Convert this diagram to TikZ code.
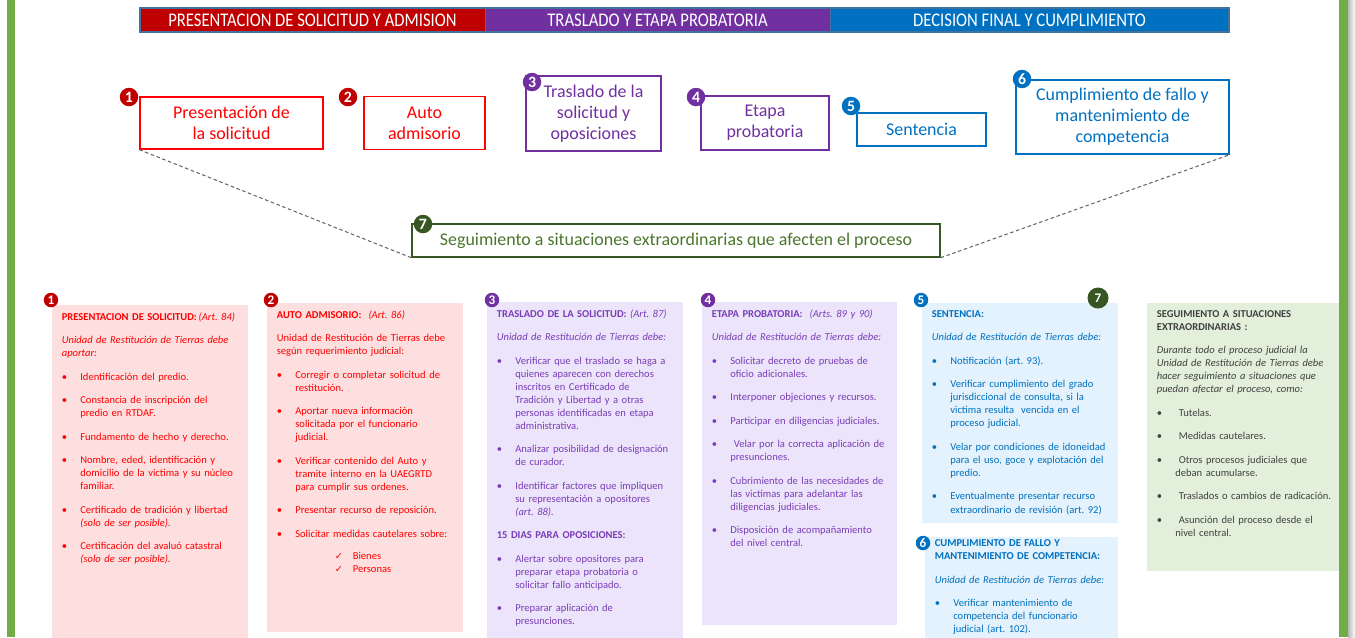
\documentclass[tikz,border=0pt]{standalone}
\usepackage{fontspec}
\setmainfont{Carlito}
\newfontfamily\symfont{DejaVu Sans}
\usepackage{graphicx}
\usetikzlibrary{positioning}

\definecolor{rojo}{HTML}{FF0000}
\definecolor{rojooscuro}{HTML}{C00000}
\definecolor{morado}{HTML}{7030A0}
\definecolor{moradotxt}{HTML}{7A3DB8}
\definecolor{azul}{HTML}{0070C0}
\definecolor{verde}{HTML}{375623}
\definecolor{verdetxt}{HTML}{4A752C}
\definecolor{marco}{HTML}{41719C}
\definecolor{barra}{HTML}{70AD47}
\definecolor{fondorojo}{HTML}{FDDFDF}
\definecolor{fondomorado}{HTML}{ECE4FA}
\definecolor{fondoazul}{HTML}{E3F2FC}
\definecolor{fondoverde}{HTML}{E2EFDA}
\definecolor{gris}{HTML}{404040}

\newlength\bhang
\setlength\bhang{0.37cm}
\newcommand{\salto}{\hfil\break}
\newcommand{\bloque}{\par\vspace{6pt}\noindent}
\newcommand{\vineta}[1]{\par\vspace{6pt}\hangindent=\bhang\hangafter=1\noindent\makebox[\bhang][l]{\textbullet}#1}
\newcommand{\visto}[1]{\par\noindent\hspace*{1.16cm}\makebox[0.36cm][l]{\symfont\fontsize{5.5}{6}\selectfont ✓}#1}
\newcommand{\angosto}[1]{\scalebox{0.86}[1]{#1}}

\tikzset{
    head/.style = {draw=marco, thin, text=white, minimum height=0.48cm, inner sep=0pt, font=\fontsize{11}{12}\selectfont},
    stagebox/.style = {draw, line width=0.8pt, align=center, inner sep=0pt, font=\fontsize{10.2}{12}\selectfont},
    badge/.style = {circle, inner sep=0pt, minimum size=0.37cm, text=white, font=\bfseries\fontsize{9}{9}\selectfont},
    small_badge/.style = {badge, minimum size=0.29cm, font=\bfseries\fontsize{7.5}{7.5}\selectfont},
    link/.style = {draw=gray!80!black, dash pattern=on 2pt off 1.5pt, line width=0.6pt}
}
\tikzset{
    panel/.style = {anchor=north west, inner sep=0pt, minimum width=3.92cm},
    panel_text/.style = {anchor=north west, align=left, text width=3.62cm, inner xsep=0.19cm, inner ysep=0.14cm, font=\fontsize{6}{7.4}\selectfont}
}

\begin{document}
\frenchspacing
\begin{tikzpicture}
    [x=0.02cm, y=-0.02cm]

    \path [use as bounding box] (0,0) rectangle (1355,637);
    \clip (0,0) rectangle (1355,637);

    % side bars
    \fill [barra] (7,0) rectangle (15,637);
    \fill [barra] (1339,0) rectangle (1348,637);
    \shade [left color=gray!55, right color=white] (1348,0) rectangle (1355,637);

    % header
    \node [head, fill=rojooscuro, minimum width=6.9cm] (h1) at (312.5,20) {\angosto{PRESENTACION DE SOLICITUD Y ADMISION}};
    \node [head, fill=morado, minimum width=6.9cm] (h2) at (657.5,20) {\angosto{TRASLADO Y ETAPA PROBATORIA}};
    \node [head, fill=azul, minimum width=7.98cm] (h3) at (1029.5,20) {\angosto{DECISION FINAL Y CUMPLIMIENTO}};
    \draw [marco, line width=1pt] (h1.north west) rectangle (h3.south east);

    % stages
    \node [stagebox, draw=rojo, text=rojo, minimum width=3.66cm, minimum height=1.04cm] (b1) at (231.5,123) {Presentación de\\la solicitud};
    \node [stagebox, draw=rojo, text=rojo, minimum width=2.42cm, minimum height=1.06cm] (b2) at (424.5,123) {Auto\\admisorio};
    \node [stagebox, draw=morado, text=morado, minimum width=2.7cm, minimum height=1.5cm] (b3) at (593.5,113.5) {Traslado de la\\solicitud y\\oposiciones};
    \node [stagebox, draw=morado, text=morado, minimum width=2.56cm, minimum height=1.08cm] (b4) at (765,123) {Etapa\\probatoria};
    \node [stagebox, draw=azul, text=azul, minimum width=2.58cm, minimum height=0.66cm] (b5) at (921.5,129.5) {Sentencia};
    \node [stagebox, draw=azul, text=azul, minimum width=4.26cm, minimum height=1.48cm] (b6) at (1122.5,117) {Cumplimiento de fallo y\\mantenimiento de\\competencia};
    \node [stagebox, draw=verde, text=verdetxt, minimum width=10.56cm, minimum height=0.66cm] (b7) at (676,240.5) {Seguimiento a situaciones extraordinarias que afecten el proceso};

    \node [badge, fill=rojooscuro] (k1) at (129,97) {1};
    \node [badge, fill=rojooscuro] (k2) at (348,97) {2};
    \node [badge, fill=morado] (k3) at (532,82) {3};
    \node [badge, fill=morado] (k4) at (696,97) {4};
    \node [badge, fill=azul] (k5) at (851,106) {5};
    \node [badge, fill=azul] (k6) at (1022,79) {6};
    \node [badge, fill=verde] (k7) at (423,224) {7};

    \draw [link] (b1.south west) -- (b7.south west);
    \draw [link] (b7.south east) -- (b6.south east);

    % panels
    \node [panel, fill=fondorojo, minimum height=7cm] (p1) at (52,305) {};
    \node [panel, fill=fondorojo, minimum height=6.58cm] (p2) at (267,303) {};
    \node [panel, fill=fondomorado, minimum height=7cm] (p3) at (487,302) {};
    \node [panel, fill=fondomorado, minimum height=6.46cm, minimum width=3.9cm] (p4) at (702,302) {};
    \node [panel, fill=fondoazul, minimum height=4.4cm] (p5) at (922,303) {};
    \node [panel, fill=fondoazul, minimum height=3cm, minimum width=3.86cm] (p6) at (925,537) {};
    \node [panel, fill=fondoverde, minimum height=5.36cm, minimum width=3.84cm] (p7) at (1147,303) {};

    \node [panel_text, text=rojo] (t1) at (p1.north west) {
        \textbf{PRESENTACION DE SOLICITUD:}\,\textit{(Art. 84)}
        \bloque\textit{Unidad de Restitución de Tierras debe\salto aportar:}
        \vineta{Identificación del predio.}
        \vineta{Constancia de inscripción del\salto predio en RTDAF.}
        \vineta{Fundamento de hecho y derecho.}
        \vineta{Nombre, eded, identificación y\salto domicilio de la victima y su núcleo\salto familiar.}
        \vineta{Certificado de tradición y libertad\salto \textit{(solo de ser posible).}}
        \vineta{Certificación del avaluó catastral\salto \textit{(solo de ser posible).}}\par
    };
    \node [panel_text, text=rojo] (t2) at (p2.north west) {
        \textbf{AUTO ADMISORIO:} \ \textit{(Art. 86)}
        \bloque Unidad de Restitución de Tierras debe\salto según requerimiento judicial:
        \vineta{Corregir o completar solicitud de\salto restitución.}
        \vineta{Aportar nueva información\salto solicitada por el funcionario\salto judicial.}
        \vineta{Verificar contenido del Auto y\salto tramite interno en la UAEGRTD\salto para cumplir sus ordenes.}
        \vineta{Presentar recurso de reposición.}
        \vineta{Solicitar medidas cautelares sobre:}
        \par\vspace{5pt}
        \visto{Bienes}
        \visto{Personas}\par
    };
    \node [panel_text, text=moradotxt] (t3) at (p3.north west) {
        \textbf{TRASLADO DE LA SOLICITUD:} \textit{(Art. 87)}
        \bloque\textit{Unidad de Restitución de Tierras debe:}
        \vineta{Verificar que el traslado se haga a\salto quienes aparecen con derechos\salto inscritos en Certificado de\salto Tradición y Libertad y a otras\salto personas identificadas en etapa\salto administrativa.}
        \vineta{Analizar posibilidad de designación\salto de curador.}
        \vineta{Identificar factores que impliquen\salto su representación a opositores\salto \textit{(art. 88).}}
        \bloque\textbf{15 DIAS PARA OPOSICIONES:}
        \vineta{Alertar sobre opositores para\salto preparar etapa probatoria o\salto solicitar fallo anticipado.}
        \vineta{Preparar aplicación de\salto presunciones.}\par
    };
    \node [panel_text, text=moradotxt] (t4) at (p4.north west) {
        \textbf{ETAPA PROBATORIA:} \ \textit{(Arts. 89 y 90)}
        \bloque\textit{Unidad de Restitución de Tierras debe:}
        \vineta{Solicitar decreto de pruebas de\salto oficio adicionales.}
        \vineta{Interponer objeciones y recursos.}
        \vineta{Participar en diligencias judiciales.}
        \vineta{\ Velar por la correcta aplicación de\salto presunciones.}
        \vineta{Cubrimiento de las necesidades de\salto las victimas para adelantar las\salto diligencias judiciales.}
        \vineta{Disposición de acompañamiento\salto del nivel central.}\par
    };
    \node [panel_text, text=azul] (t5) at (p5.north west) {
        \textbf{SENTENCIA:}
        \bloque\textit{Unidad de Restitución de Tierras debe:}
        \vineta{Notificación (art. 93).}
        \vineta{Verificar cumplimiento del grado\salto jurisdiccional de consulta, si la\salto victima resulta \ vencida en el\salto proceso judicial.}
        \vineta{Velar por condiciones de idoneidad\salto para el uso, goce y explotación del\salto predio.}
        \vineta{Eventualmente presentar recurso\salto extraordinario de revisión (art. 92)}\par
    };
    \node [panel_text, text=azul, inner ysep=0.05cm] (t6) at (p6.north west) {
        \textbf{CUMPLIMIENTO DE FALLO Y\salto MANTENIMIENTO DE COMPETENCIA:}
        \bloque\textit{Unidad de Restitución de Tierras debe:}
        \vineta{Verificar mantenimiento de\salto competencia del funcionario\salto judicial (art. 102).}\par
    };
    \node [panel_text, text=gris] (t7) at (p7.north west) {
        \textbf{SEGUIMIENTO A SITUACIONES\salto EXTRAORDINARIAS :}
        \bloque\textit{Durante todo el proceso judicial la\salto Unidad de Restitución de Tierras debe\salto hacer seguimiento a situaciones que\salto puedan afectar el proceso, como:}
        \vineta{\ Tutelas.}
        \vineta{\ Medidas cautelares.}
        \vineta{\ Otros procesos judiciales que\salto deban acumularse.}
        \vineta{\ Traslados o cambios de radicación.}
        \vineta{\ Asunción del proceso desde el\salto nivel central.}\par
    };

    \node [small_badge, fill=rojooscuro] (m1) at (51,300) {1};
    \node [small_badge, fill=rojooscuro] (m2) at (271,300) {2};
    \node [small_badge, fill=morado] (m3) at (492,300) {3};
    \node [small_badge, fill=morado] (m4) at (708,300) {4};
    \node [small_badge, fill=azul] (m5) at (921,300) {5};
    \node [small_badge, fill=verde, minimum width=0.42cm] (m7) at (1098,298) {7};
    \node [small_badge, fill=azul] (m6) at (923,543) {6};
\end{tikzpicture}
\end{document}
